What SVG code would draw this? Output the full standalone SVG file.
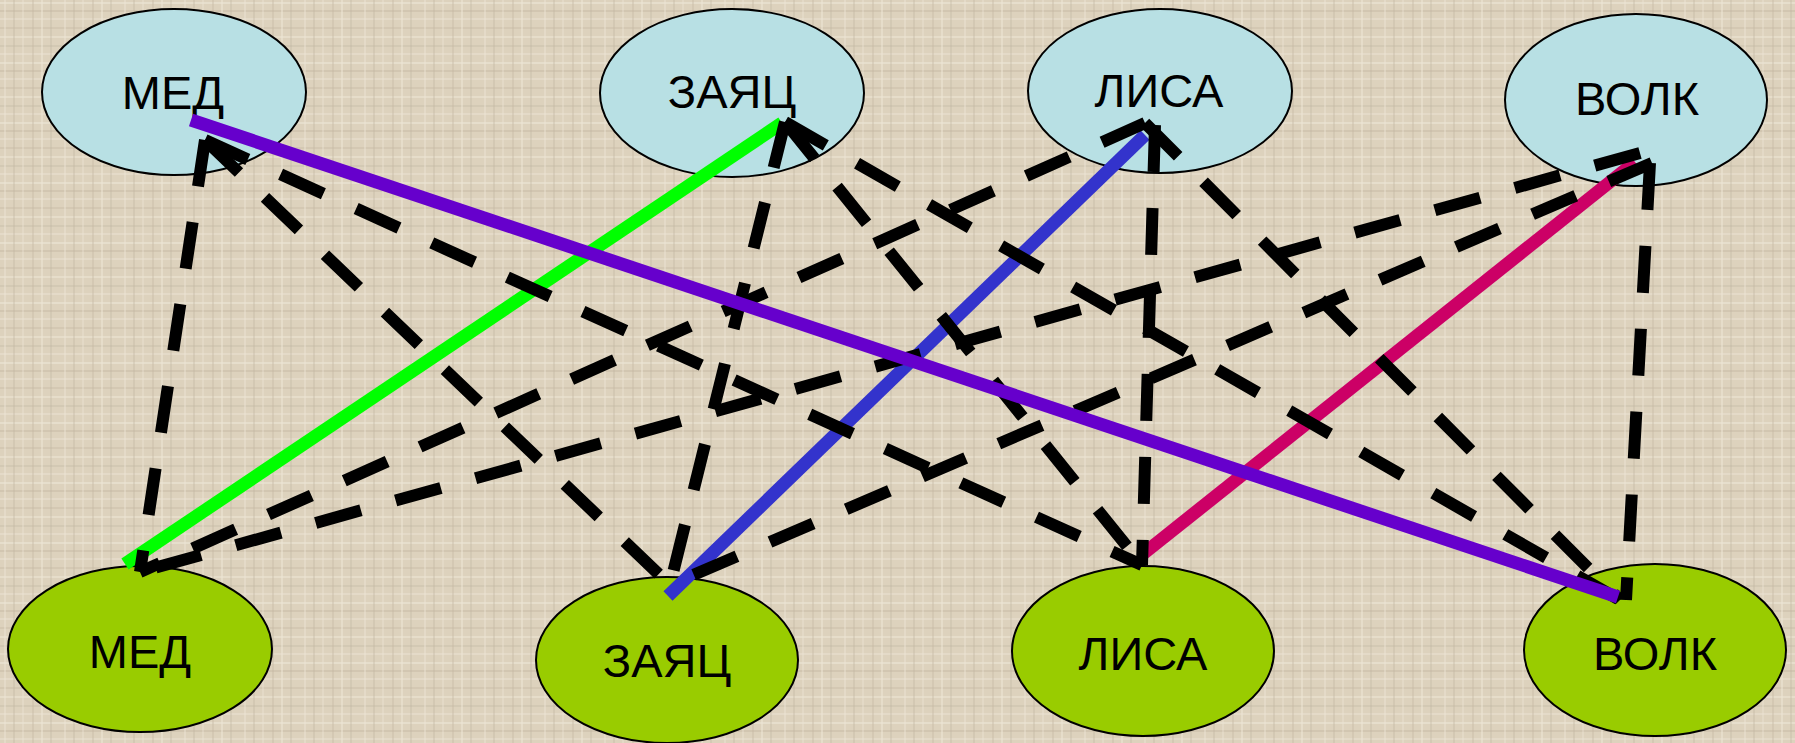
<svg xmlns="http://www.w3.org/2000/svg" width="1795" height="743" viewBox="0 0 1795 743">
<defs>
<pattern id="canvas" width="60" height="60" patternUnits="userSpaceOnUse">
<rect width="60" height="60" fill="#DDD2BD"/>
<g stroke-width="1.5">
<line x1="0" y1="3" x2="60" y2="3" stroke="#EEE6D6" opacity="0.8"/>
<line x1="0" y1="11" x2="60" y2="11" stroke="#BFB39D" opacity="0.5"/>
<line x1="0" y1="19" x2="60" y2="19" stroke="#EEE6D6" opacity="0.6"/>
<line x1="0" y1="28" x2="60" y2="28" stroke="#C4B8A2" opacity="0.5"/>
<line x1="0" y1="37" x2="60" y2="37" stroke="#EEE6D6" opacity="0.7"/>
<line x1="0" y1="46" x2="60" y2="46" stroke="#BFB39D" opacity="0.4"/>
<line x1="0" y1="54" x2="60" y2="54" stroke="#EEE6D6" opacity="0.6"/>
<line x1="5" y1="0" x2="5" y2="60" stroke="#EEE6D6" opacity="0.6"/>
<line x1="14" y1="0" x2="14" y2="60" stroke="#BFB39D" opacity="0.45"/>
<line x1="23" y1="0" x2="23" y2="60" stroke="#EEE6D6" opacity="0.5"/>
<line x1="33" y1="0" x2="33" y2="60" stroke="#C4B8A2" opacity="0.5"/>
<line x1="42" y1="0" x2="42" y2="60" stroke="#EEE6D6" opacity="0.7"/>
<line x1="51" y1="0" x2="51" y2="60" stroke="#BFB39D" opacity="0.4"/>
</g>
</pattern>
</defs>
<style>
.top{fill:#B8E0E4;stroke:#000;stroke-width:2}
.bot{fill:#99CC00;stroke:#000;stroke-width:2}
.lbl{font-family:"Liberation Sans",Arial,sans-serif;font-size:47px;fill:#000;text-anchor:middle}
.dash{fill:none;stroke:#000;stroke-width:12;stroke-dasharray:47 36}
.solid{fill:none;stroke-width:13}
</style>
<rect width="1795" height="743" fill="url(#canvas)"/>
<g id="nodes">
<g id="top-med"><ellipse class="top" cx="174" cy="92" rx="132" ry="83"/><text class="lbl" x="173" y="109">МЕД</text></g>
<g id="top-zayac"><ellipse class="top" cx="732" cy="93" rx="132" ry="84"/><text class="lbl" x="732" y="108">ЗАЯЦ</text></g>
<g id="top-lisa"><ellipse class="top" cx="1160" cy="91" rx="132" ry="82"/><text class="lbl" x="1159" y="107">ЛИСА</text></g>
<g id="top-volk"><ellipse class="top" cx="1636" cy="100" rx="131" ry="86"/><text class="lbl" x="1637" y="115">ВОЛК</text></g>
<g id="bot-med"><ellipse class="bot" cx="140" cy="649" rx="132" ry="83"/><text class="lbl" x="140" y="668">МЕД</text></g>
<g id="bot-zayac"><ellipse class="bot" cx="667" cy="660" rx="131" ry="83"/><text class="lbl" x="667" y="677">ЗАЯЦ</text></g>
<g id="bot-lisa"><ellipse class="bot" cx="1143" cy="651" rx="131" ry="85"/><text class="lbl" x="1143" y="670">ЛИСА</text></g>
<g id="bot-volk"><ellipse class="bot" cx="1655" cy="650" rx="131" ry="86"/><text class="lbl" x="1655" y="670">ВОЛК</text></g>
</g>
<g id="connectors">
<line class="solid" stroke="#00FF00" x1="782" y1="123" x2="125" y2="564"/>
<line class="solid" stroke="#3333CC" x1="1145" y1="135" x2="668" y2="596"/>
<line class="solid" stroke="#CC0066" x1="1635" y1="162" x2="1143" y2="554"/>
<line class="dash" x1="205" y1="140" x2="140" y2="572"/>
<line class="dash" x1="1145" y1="123" x2="140" y2="572"/>
<line class="dash" x1="1640" y1="153" x2="140" y2="572"/>
<line class="dash" x1="205" y1="140" x2="670" y2="585"/>
<line class="dash" x1="785" y1="122" x2="670" y2="585"/>
<line class="dash" x1="1652" y1="163" x2="670" y2="585"/>
<line class="dash" x1="205" y1="140" x2="1142" y2="565"/>
<line class="dash" x1="785" y1="122" x2="1142" y2="565"/>
<line class="dash" x1="1155" y1="125" x2="1142" y2="565"/>
<line class="dash" x1="785" y1="122" x2="1620" y2="600"/>
<line class="dash" x1="1145" y1="123" x2="1620" y2="600"/>
<line class="dash" x1="1650" y1="163" x2="1626" y2="600"/>
<line class="solid" stroke="#6600CC" x1="191" y1="120" x2="1618" y2="597"/>
</g>
</svg>
